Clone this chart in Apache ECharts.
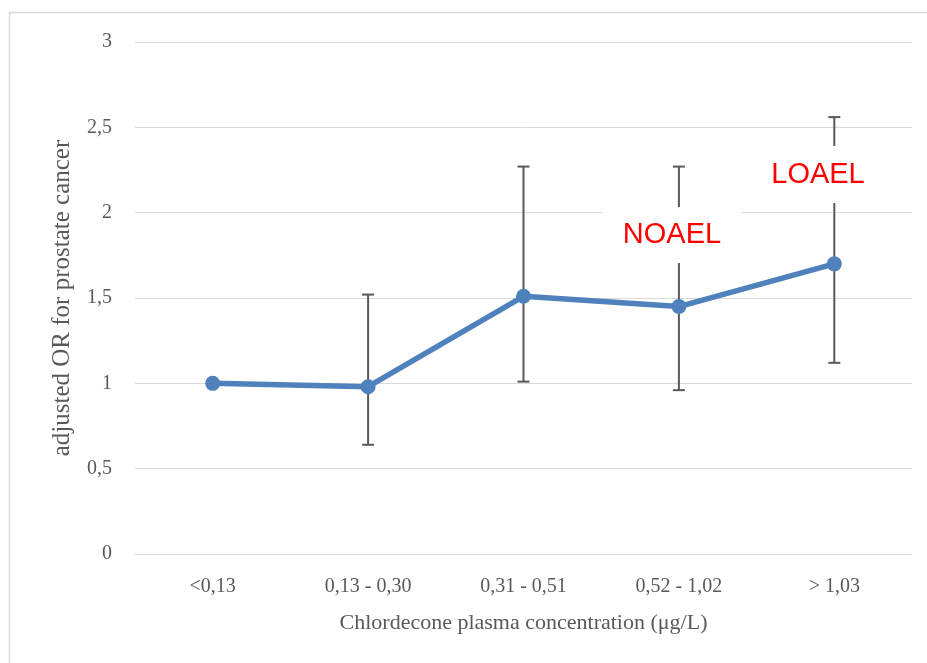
<!DOCTYPE html>
<html>
<head>
<meta charset="utf-8">
<script src="https://cdn.jsdelivr.net/npm/echarts@6/dist/echarts.min.js"></script>
<style>html,body{margin:0;padding:0;background:#fff}#c{width:927px;height:663px}</style>
</head>
<body>
<div id="c"></div>
<script>
var categories = ['<0,13', '0,13 - 0,30', '0,31 - 0,51', '0,52 - 1,02', '> 1,03'];
var orValues = [1.00, 0.98, 1.51, 1.45, 1.70];
var ciLow = [null, 0.64, 1.01, 0.96, 1.12];
var ciHigh = [null, 1.52, 2.27, 2.27, 2.56];
var yTicks = [0, 0.5, 1, 1.5, 2, 2.5, 3];

var serif = "'Liberation Serif', 'DejaVu Serif', serif";
var errData = [];
for (var i = 0; i < categories.length; i++) {
  if (ciLow[i] != null) errData.push([i, ciLow[i], ciHigh[i]]);
}

var chart = echarts.init(document.getElementById('c'), null, {renderer: 'canvas'});
chart.setOption({
  animation: false,
  backgroundColor: '#fff',
  grid: {left: 135, right: 15, top: 42, bottom: 109},
  xAxis: {
    type: 'category',
    data: categories,
    boundaryGap: true,
    axisLine: {show: true, lineStyle: {color: '#d9d9d9', width: 1}},
    axisTick: {show: false},
    axisLabel: {color: '#595959', fontFamily: serif, fontSize: 20, margin: 23},
    name: 'Chlordecone plasma concentration (μg/L)',
    nameLocation: 'middle',
    nameGap: 58,
    nameTextStyle: {color: '#595959', fontFamily: serif, fontSize: 22}
  },
  yAxis: {
    type: 'value',
    min: 0, max: 3, interval: 0.5,
    axisLine: {show: false},
    axisTick: {show: false},
    splitLine: {lineStyle: {color: '#d9d9d9', width: 1}},
    axisLabel: {
      color: '#595959', fontFamily: serif, fontSize: 20, margin: 23,
      formatter: function (v) { return String(v).replace('.', ','); }
    },
    name: 'adjusted OR for prostate cancer',
    nameLocation: 'middle',
    nameGap: 60,
    nameTextStyle: {color: '#595959', fontFamily: serif, fontSize: 25}
  },
  series: [
    {
      type: 'custom',
      data: errData,
      z: 3,
      renderItem: function (params, api) {
        var x = api.coord([api.value(0), api.value(1)])[0];
        var yl = api.coord([api.value(0), api.value(1)])[1];
        var yh = api.coord([api.value(0), api.value(2)])[1];
        var w = 6;
        var st = {stroke: '#595959', lineWidth: 2};
        return {
          type: 'group',
          children: [
            {type: 'line', shape: {x1: x, y1: yh, x2: x, y2: yl}, style: st},
            {type: 'line', shape: {x1: x - w, y1: yh, x2: x + w, y2: yh}, style: st},
            {type: 'line', shape: {x1: x - w, y1: yl, x2: x + w, y2: yl}, style: st}
          ]
        };
      }
    },
    {
      type: 'line',
      data: orValues,
      z: 5,
      symbol: 'circle',
      symbolSize: 15,
      lineStyle: {color: '#4f81bd', width: 5.5},
      itemStyle: {color: '#4f81bd'}
    }
  ],
  graphic: [
    {type: 'polyline', shape: {points: [[9.5, 663], [9.5, 12.5], [927, 12.5]]}, style: {fill: null, stroke: '#d9d9d9', lineWidth: 1.5}, z: -1, silent: true},
    {type: 'rect', shape: {x: 602, y: 207, width: 140, height: 56}, style: {fill: '#fff'}, z: 10},
    {type: 'text', x: 672, y: 235, z: 11, style: {text: 'NOAEL', fill: '#ff0000', font: "29px 'Liberation Sans', Arial, sans-serif", align: 'center', verticalAlign: 'middle'}},
    {type: 'rect', shape: {x: 750, y: 146, width: 136, height: 57}, style: {fill: '#fff'}, z: 10},
    {type: 'text', x: 818, y: 175, z: 11, style: {text: 'LOAEL', fill: '#ff0000', font: "29px 'Liberation Sans', Arial, sans-serif", align: 'center', verticalAlign: 'middle'}}
  ]
});
</script>
</body>
</html>
